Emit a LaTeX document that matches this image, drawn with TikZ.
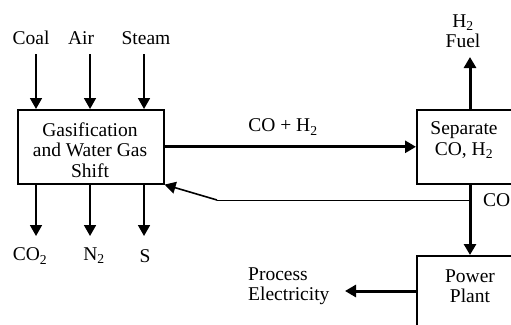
\documentclass[tikz,border=0pt]{standalone}
\usepackage{fontspec}
\setmainfont{Liberation Serif}
\usetikzlibrary{arrows.meta}
\begin{document}
\begin{tikzpicture}[x=1pt,y=-1pt,
  every node/.style={font=\fontsize{19.5}{20.5}\selectfont, inner sep=0pt},
  box/.style={draw, line width=1.6pt, align=center, anchor=north west},
  lbl/.style={align=center},
  flow/.style={line width=1.8pt, -{Triangle[length=11pt,width=12pt]}},
  bigflow/.style={line width=3pt, -{Triangle[length=11pt,width=12pt]}},
  thin/.style={line width=1pt},
]
\useasboundingbox (0,0) rectangle (511,324);
\clip (0,0) rectangle (511,324);
% boxes
\node[box, minimum width=146pt, minimum height=74pt] (gas) at (17,109) {};
\node[align=center] (gast) at (90,150) {Gasification\\and Water Gas\\Shift};
\node[box, minimum width=97pt, minimum height=74pt] (sep) at (416,109) {};
\node[align=center] (sept) at (464,140) {Separate\\CO, H\textsubscript{2}};
\node[box, minimum width=108pt, minimum height=90pt] (pow) at (416,255) {};
\node[align=center] (powt) at (470,286) {Power\\Plant};
% input labels
\node[lbl] (coal) at (31,38) {Coal};
\node[lbl] (air) at (81,38) {Air};
\node[lbl] (steam) at (146,38) {Steam};
\coordinate (cin) at (36,54);
\coordinate (ain) at (90,54);
\coordinate (sin) at (144,54);
\draw[flow] (cin) -- (cin |- gas.north);
\draw[flow] (ain) -- (ain |- gas.north);
\draw[flow] (sin) -- (sin |- gas.north);
% outputs
\node[lbl] (co2) at (30,256) {CO\textsubscript{2}};
\node[lbl] (n2) at (94,256) {N\textsubscript{2}};
\node[lbl] (s) at (145,256) {S};
\coordinate (cout) at (36,236);
\coordinate (nout) at (90,236);
\coordinate (sout) at (144,236);
\draw[flow] (cout |- gas.south) -- (cout);
\draw[flow] (nout |- gas.south) -- (nout);
\draw[flow] (sout |- gas.south) -- (sout);
% CO + H2
\node[lbl] (coh) at (283,127) {CO + H\textsubscript{2}};
\draw[bigflow] (gas.east) -- (sep.west);
% H2 fuel
\node[lbl] (h2) at (463,31) {H\textsubscript{2}\\Fuel};
\coordinate (fueltip) at (470,57);
\draw[bigflow] (fueltip |- sep.north) -- (fueltip);
% CO down
\coordinate (codown) at (470,183);
\draw[bigflow] (codown) -- (codown |- pow.north);
\node[lbl, anchor=west] (co) at (483,200) {CO};
% return line
\coordinate (rj) at (470,200);
\coordinate (rk) at (217,200);
\draw[thin] (rj) -- (rk);
\draw[line width=1.6pt, -{Triangle[length=11pt,width=12pt]}] (rk) -- (gas.south east);
% process electricity
\node[align=left, anchor=west] (pe) at (248,286) {Process\\Electricity};
\coordinate (petip) at (345,291);
\draw[bigflow] (pow.west |- petip) -- (petip);
\end{tikzpicture}
\end{document}
